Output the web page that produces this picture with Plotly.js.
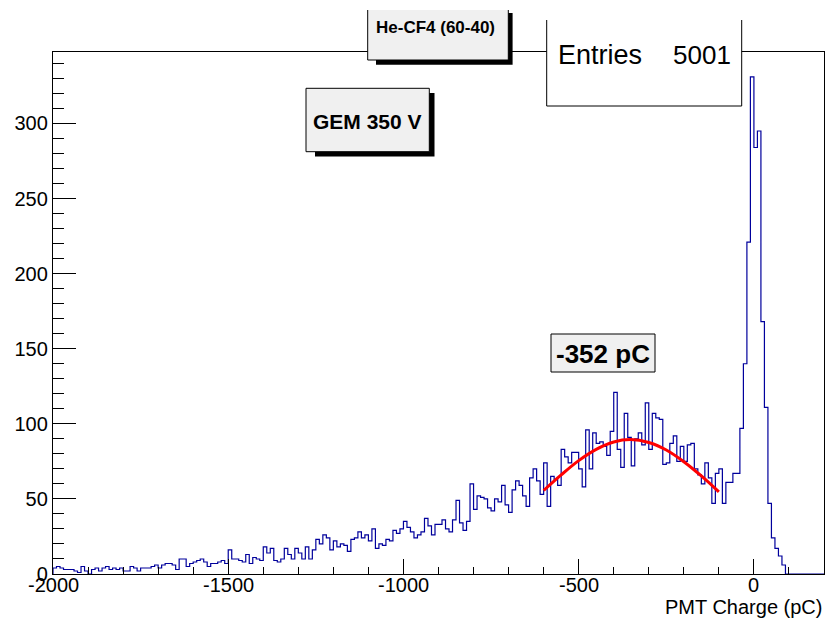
<!DOCTYPE html>
<html>
<head>
<meta charset="utf-8">
<script src="https://cdn.plot.ly/plotly-3.0.1.min.js"></script>
<style>
  html, body { margin: 0; padding: 0; background: #ffffff; }
  #chart { width: 827px; height: 623px; }
</style>
</head>
<body>
<div id="chart"></div>
<script>
// ---- Data ----
const binStart = -2000;
const binWidth = 10;
// counts per bin, lower edges -2000, -1990, ..., 190
const counts = [
  // -2000 .. -1510
  4,5,4,3,3,3,2,1,5,2,
  0,3,4,2,4,5,3,4,3,4,
  2,2,5,4,2,4,4,4,5,6,
  4,6,7,7,6,3,10,10,5,7,
  8,9,10,8,5,7,7,8,9,7,
  // -1500, -1490
  16,10,
  // -1480 .. -1010
  10,9,8,13,7,11,10,9,18,14,
  17,9,8,10,17,13,10,17,14,10,
  18,10,16,23,20,26,24,16,22,18,
  20,19,15,23,24,28,24,26,22,30,
  17,20,19,23,22,29,27,30,
  // -1000 .. -820
  35,31,28,24,26,28,37,32,26,33,33,36,30,28,36,49,34,29,35,
  // -810 .. -600
  60,43,52,51,50,44,42,50,48,59,46,41,56,62,59,52,45,64,70,62,53,74,
  // -590 .. -410
  45,65,63,59,83,78,74,81,81,70,58,96,70,94,87,88,85,79,95,
  // -400 .. 80
  121,83,71,107,91,72,90,94,86,114,
  83,107,104,103,73,74,87,92,75,85,
  75,86,87,70,66,60,74,64,47,67,
  70,47,61,61,67,67,97,140,221,331,
  284,295,168,111,47,24,17,12,6,
  // 90 .. 190
  0,0,0,0,0,0,0,0,0,0,0
];
// Gaussian fit curve
const fitX = [-600,-550,-500,-450,-400,-352,-300,-250,-200,-150,-100];
const fitY = [55.6,66,75.5,83,87.9,89.5,87.6,82.6,74.8,65.3,54.7];
const xTickVals = [-2000,-1500,-1000,-500,0];
const xTickText = ['-2000','-1500','-1000','-500','0'];
const yTickVals = [0,50,100,150,200,250,300];
const titleText = 'He-CF4 (60-40)';
const gemText = 'GEM 350 V';
const fitText = '-352 pC';
const entriesLabel = 'Entries';
const entriesValue = '5001';
const xTitle = 'PMT Charge (pC)';

// ---- Build histogram outline from bins ----
const edges = [];
const stepY = [];
for (let i = 0; i < counts.length; i++) {
  edges.push(binStart + i * binWidth);
  stepY.push(counts[i]);
}
edges.push(binStart + counts.length * binWidth);
stepY.push(counts[counts.length - 1]);
const histX = [binStart].concat(edges);
const histY = [0].concat(stepY);

// ---- Layout geometry (pixels) ----
const W = 827, H = 623;
const L = 53, R = 3, T = 52, B = 49;
const pw = W - L - R, ph = H - T - B;
const px = v => (v - L) / pw;          // pixel x -> paper
const py = v => (H - B - v) / ph;      // pixel y -> paper

const FONT = 'Liberation Sans, Arial, Helvetica, sans-serif';

function rect(x0, y0, x1, y1, fill, line) {
  return {type: 'rect', xref: 'paper', yref: 'paper', layer: 'above',
    x0: px(x0), x1: px(x1), y0: py(y1), y1: py(y0),
    fillcolor: fill, line: line ? {color: '#000', width: 1} : {width: 0}};
}
function openBox(x0, y0, x1, y1) {
  return {type: 'path', xref: 'paper', yref: 'paper', layer: 'above',
    path: `M ${px(x0)},${py(y0)} L ${px(x0)},${py(y1)} L ${px(x1)},${py(y1)} L ${px(x1)},${py(y0)}`,
    line: {color: '#000', width: 1}};
}

const shapes = [
  rect(376, 13, 512.6, 64.7, '#000', false),
  rect(367.7, 10, 508.3, 60, '#f0f0f0', false),
  openBox(367.7, 10, 508.3, 60),
  rect(546.7, 20, 741.7, 106, '#ffffff', false),
  openBox(546.7, 20, 741.7, 106),
  rect(315, 93, 434.5, 156.5, '#000', false),
  rect(306, 88.3, 429.3, 151.7, '#f0f0f0', true),
  rect(551, 334, 655, 372, '#f0f0f0', true)
];

const annotations = [
  {text: '<b>' + titleText + '</b>', xref: 'paper', yref: 'paper', x: px(435), y: py(27),
   xanchor: 'center', yanchor: 'middle', showarrow: false, font: {family: FONT, size: 17, color: '#000'}},
  {text: entriesLabel, xref: 'paper', yref: 'paper', x: px(556), y: py(55),
   xanchor: 'left', yanchor: 'middle', showarrow: false, font: {family: FONT, size: 27, color: '#000'}},
  {text: entriesValue, xref: 'paper', yref: 'paper', x: px(733), y: py(55),
   xanchor: 'right', yanchor: 'middle', showarrow: false, font: {family: FONT, size: 26, color: '#000'}},
  {text: '<b>' + gemText + '</b>', xref: 'paper', yref: 'paper', x: px(367.7), y: py(121),
   xanchor: 'center', yanchor: 'middle', showarrow: false, font: {family: FONT, size: 21, color: '#000'}},
  {text: '<b>' + fitText + '</b>', xref: 'paper', yref: 'paper', x: px(603), y: py(354),
   xanchor: 'center', yanchor: 'middle', showarrow: false, font: {family: FONT, size: 26, color: '#000'}},
  {text: xTitle, xref: 'paper', yref: 'paper', x: px(824), y: py(607),
   xanchor: 'right', yanchor: 'middle', showarrow: false, font: {family: FONT, size: 20, color: '#000'}}
];
// x tick labels, placed tight under the axis as in the reference
xTickVals.forEach((v, i) => {
  annotations.push({text: xTickText[i], xref: 'x', yref: 'paper', x: v, y: py(585),
    xanchor: 'center', yanchor: 'middle', showarrow: false,
    font: {family: FONT, size: 20, color: '#000'}});
});

const traces = [
  {x: histX, y: histY, type: 'scatter', mode: 'lines',
   line: {shape: 'hv', color: '#00009c', width: 1.2}, hoverinfo: 'skip'},
  {x: fitX, y: fitY, type: 'scatter', mode: 'lines',
   line: {shape: 'spline', color: '#ff0000', width: 3}, hoverinfo: 'skip'}
];

const layout = {
  width: W, height: H,
  margin: {l: L, r: R, t: T, b: B, pad: 0},
  paper_bgcolor: '#ffffff', plot_bgcolor: '#ffffff',
  showlegend: false,
  font: {family: FONT, size: 20, color: '#000'},
  xaxis: {
    range: [-2000, 200], tickmode: 'array', tickvals: xTickVals, showticklabels: false,
    ticks: 'inside', ticklen: 15, tickwidth: 1, tickcolor: '#000',
    minor: {dtick: 100, tick0: -2000, ticks: 'inside', ticklen: 7, tickwidth: 1, tickcolor: '#000', showgrid: false},
    showline: true, mirror: true, linecolor: '#000', linewidth: 1.2,
    showgrid: false, zeroline: false
  },
  yaxis: {
    range: [0, 347.6], tickmode: 'array', tickvals: yTickVals,
    ticks: 'inside', ticklen: 23, tickwidth: 1, tickcolor: '#000',
    minor: {dtick: 10, tick0: 0, ticks: 'inside', ticklen: 11, tickwidth: 1, tickcolor: '#000', showgrid: false},
    showline: true, mirror: true, linecolor: '#000', linewidth: 1.2,
    showgrid: false, zeroline: false, tickfont: {family: FONT, size: 20, color: '#000'}
  },
  shapes: shapes,
  annotations: annotations
};

Plotly.newPlot('chart', traces, layout, {displayModeBar: false, staticPlot: true});
</script>
</body>
</html>
